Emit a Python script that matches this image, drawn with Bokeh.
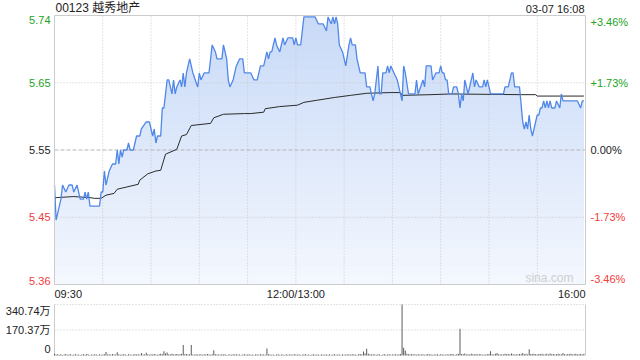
import numpy as np
from bokeh.plotting import figure
from bokeh.models import Range1d, Label
from bokeh.embed import file_html
from bokeh.resources import INLINE

# ---------------- data ----------------
title_text = "00123 越秀地产"
date_text = "03-07 16:08"
watermark = "sina.com"
prev_close = 5.55
pct_levels = [3.46, 1.73, 0.0, -1.73, -3.46]
price_labels = ["5.74", "5.65", "5.55", "5.45", "5.36"]
pct_labels = ["+3.46%", "+1.73%", "0.00%", "-1.73%", "-3.46%"]
session_minutes = 330
time_ticks = [0, 150, 330]
time_labels = ["09:30", "12:00/13:00", "16:00"]
grid_minutes = [30, 60, 90, 120, 150, 180, 210, 240, 270, 300]
vol_max = 340.74
vol_labels = ["340.74万", "170.37万", "0"]

price_min = [0, 1, 3, 4, 5, 7, 9, 11, 12, 14, 16, 18, 19, 20, 21, 22, 28, 29, 30, 31,
             32, 33, 34, 36, 38, 39, 40, 41, 42, 43, 45, 46, 47, 49, 51, 53, 54, 57, 59, 61,
             62, 63, 64, 66, 67, 68, 70, 71, 73, 74, 75, 76, 78, 79, 80, 81, 82, 84, 86, 89,
             90, 91, 93, 96, 98, 100, 101, 104, 105, 107, 108, 109, 111, 113, 115, 117, 118, 122, 124, 126,
             127, 128, 130, 131, 132, 133, 134, 135, 137, 138, 140, 142, 143, 145, 148, 149, 150, 151, 153, 155,
             162, 164, 167, 169, 170, 172, 173, 174, 175, 176, 177, 179, 181, 183, 184, 185, 187, 188, 190, 193,
             194, 196, 197, 198, 199, 201, 202, 203, 204, 206, 207, 208, 209, 211, 213, 214, 215, 216, 217, 218,
             220, 224, 225, 226, 229, 230, 231, 234, 235, 237, 239, 240, 241, 242, 243, 244, 245, 247, 248, 250,
             251, 252, 253, 254, 255, 257, 259, 260, 261, 262, 264, 266, 267, 268, 269, 271, 279, 280, 282, 284,
             285, 286, 289, 291, 292, 293, 294, 295, 296, 297, 300, 301, 302, 303, 304, 305, 306, 307, 308, 309,
             311, 312, 314, 315, 316, 325, 327, 328, 329]
price_val = [5.50, 5.45, 5.47, 5.48, 5.50, 5.49, 5.50, 5.50, 5.49, 5.50, 5.48, 5.48, 5.49, 5.48, 5.49, 5.47, 5.47, 5.49, 5.49, 5.52,
             5.50, 5.51, 5.52, 5.53, 5.53, 5.55, 5.53, 5.55, 5.54, 5.55, 5.55, 5.56, 5.55, 5.55, 5.57, 5.57, 5.58, 5.59, 5.59, 5.57,
             5.58, 5.56, 5.57, 5.57, 5.61, 5.61, 5.65, 5.65, 5.63, 5.65, 5.63, 5.64, 5.65, 5.64, 5.66, 5.64, 5.66, 5.68, 5.66, 5.64,
             5.66, 5.65, 5.66, 5.66, 5.70, 5.69, 5.68, 5.68, 5.70, 5.68, 5.65, 5.64, 5.65, 5.67, 5.68, 5.68, 5.66, 5.66, 5.65, 5.65,
             5.66, 5.67, 5.67, 5.68, 5.69, 5.68, 5.69, 5.69, 5.71, 5.70, 5.69, 5.71, 5.70, 5.71, 5.71, 5.70, 5.71, 5.70, 5.70, 5.74,
             5.74, 5.73, 5.73, 5.72, 5.74, 5.73, 5.74, 5.73, 5.74, 5.73, 5.70, 5.69, 5.67, 5.70, 5.71, 5.70, 5.70, 5.68, 5.66, 5.66,
             5.64, 5.64, 5.63, 5.62, 5.63, 5.67, 5.63, 5.63, 5.66, 5.66, 5.67, 5.66, 5.67, 5.66, 5.65, 5.64, 5.63, 5.62, 5.67, 5.66,
             5.63, 5.63, 5.65, 5.63, 5.65, 5.64, 5.67, 5.67, 5.65, 5.66, 5.66, 5.67, 5.66, 5.66, 5.65, 5.65, 5.63, 5.63, 5.64, 5.64,
             5.63, 5.61, 5.63, 5.62, 5.65, 5.63, 5.65, 5.66, 5.64, 5.65, 5.64, 5.64, 5.65, 5.64, 5.65, 5.63, 5.63, 5.64, 5.64, 5.66,
             5.66, 5.64, 5.64, 5.59, 5.58, 5.59, 5.58, 5.60, 5.58, 5.57, 5.60, 5.60, 5.61, 5.61, 5.62, 5.61, 5.62, 5.61, 5.62, 5.61,
             5.61, 5.62, 5.61, 5.63, 5.62, 5.62, 5.61, 5.62, 5.62]

avg_min = [0, 1, 12, 22, 25, 29, 32, 37, 39, 52, 53, 58, 63, 66, 69, 76, 79, 82, 85, 97,
           99, 105, 118, 122, 130, 131, 140, 151, 155, 163, 174, 184, 194, 209, 215, 216, 234, 246, 290, 299,
           300, 329]
avg_val = [5.482, 5.482, 5.4835, 5.482, 5.481, 5.481, 5.4855, 5.488, 5.494, 5.501, 5.507, 5.516, 5.520, 5.521, 5.544, 5.551, 5.570, 5.572, 5.585, 5.588,
           5.596, 5.601, 5.602, 5.602, 5.604, 5.609, 5.612, 5.614, 5.618, 5.621, 5.625, 5.628, 5.631, 5.632, 5.632, 5.628, 5.629, 5.630, 5.629, 5.629,
           5.627, 5.627]

volume = [12, 6, 8, 5, 9, 4, 7, 10, 5, 6, 8, 4, 6, 9, 5, 7, 4, 6, 8, 5, 10, 6, 4, 7, 5, 8, 6, 4, 9, 5,
          7, 9, 23, 6, 8, 5, 10, 7, 6, 21, 8, 5, 7, 9, 6, 4, 8, 6, 5, 7, 9, 6, 8, 5, 16, 7, 6, 18, 9, 5,
          8, 6, 10, 7, 5, 9, 12, 8, 28, 14, 20, 9, 7, 11, 6, 8, 10, 7, 9, 12, 70, 8, 10, 6, 9, 70, 7, 5, 8, 6,
          7, 9, 5, 8, 6, 10, 7, 5, 9, 35, 8, 6, 7, 5, 9, 6, 8, 4, 7, 6, 5, 8, 6, 9, 5, 7, 4, 6, 8, 5,
          6, 8, 5, 7, 4, 9, 6, 5, 8, 6, 7, 5, 46, 8, 6, 5, 7, 4, 6, 8, 5, 7, 6, 4, 8, 5, 6, 7, 5, 9,
          6, 5, 8, 4, 7, 6, 9, 5, 7, 4, 6, 8, 5, 7, 6, 4, 8, 5, 6, 7, 5, 9, 4, 6, 8, 5, 7, 6, 4, 8,
          5, 7, 6, 9, 5, 8, 6, 7, 4, 8, 10, 6, 27, 14, 45, 12, 8, 6, 9, 7, 5, 8, 6, 4, 7, 9, 5, 6, 8, 5,
          7, 6, 9, 5, 8, 10, 340.74, 52, 33, 12, 9, 7, 10, 6, 8, 5, 9, 7, 6, 8, 5, 7, 10, 6, 8, 5, 7, 6, 9, 5,
          8, 6, 7, 5, 9, 6, 8, 10, 7, 5, 9, 12, 178, 10, 8, 14, 7, 9, 6, 12, 8, 7, 10, 6, 8, 9, 5, 7, 6, 8,
          10, 28, 9, 7, 12, 16, 8, 6, 9, 7, 12, 8, 10, 6, 14, 9, 7, 8, 6, 10, 9, 16, 8, 12, 7, 42, 10, 8, 12, 9,
          7, 10, 8, 12, 6, 9, 11, 7, 14, 8, 10, 6, 9, 12, 8, 7, 16, 9, 6, 10, 8, 12, 7, 9, 11, 6, 8, 10, 7, 12]

assert len(price_min) == len(price_val)
assert len(avg_min) == len(avg_val)

# ---------------- layout geometry (pixels) ----------------
W, H = 640, 360
PX_L, PX_R = 54, 585          # plot panels, left/right edges
PR_T, PR_B = 15, 284          # price panel top/bottom
VO_T, VO_B = 304, 355         # volume panel top/bottom

FONT = "Liberation Sans, Arial, Noto Sans CJK SC"
GREEN = "#22a322"
RED = "#f03c3c"
TXT = "#222222"
GRID = "#c8c8c8"
BORDER = "#cccccc"
LINE_BLUE = "#5088e8"

level_prices = [prev_close * (1 + p / 100.0) for p in pct_levels]
y_hi, y_lo = level_prices[0], level_prices[-1]

# scales: the frame covers the whole canvas; ranges are extended so that
# each panel lands at its pixel box
ppx_x = session_minutes / (PX_R - PX_L)
x_start = 0 - PX_L * ppx_x
x_end = session_minutes + (W - PX_R) * ppx_x
ppx_y = (y_hi - y_lo) / (PR_B - PR_T)
y_top = y_hi + PR_T * ppx_y
y_bot = y_lo - (H - PR_B) * ppx_y
ppx_v = vol_max / (VO_B - VO_T)
v_top = vol_max + VO_T * ppx_v
v_bot = 0 - (H - VO_B) * ppx_v

p = figure(width=W, height=H, x_range=Range1d(x_start, x_end), y_range=Range1d(y_bot, y_top),
           x_axis_type=None, y_axis_type=None, toolbar_location=None, output_backend="svg",
           min_border=0, min_border_left=0, min_border_right=0, min_border_top=0, min_border_bottom=0)
p.extra_y_ranges = {"vol": Range1d(v_bot, v_top)}
p.outline_line_color = None
p.background_fill_color = "white"
p.border_fill_color = "white"
p.xgrid.visible = False
p.ygrid.visible = False

pm = np.array(price_min, dtype=float)
pv = np.array(price_val, dtype=float)

# vertical gradient fill, built as stacked bands (top band first)
top_rgb = np.array([200, 218, 247])
bot_rgb = np.array([244, 247, 254])
nb = 30
edges = np.linspace(y_lo, y_hi, nb + 1)
for k in range(nb - 1, -1, -1):
    t = (k + 0.5) / nb
    c = bot_rgb + (top_rgb - bot_rgb) * t
    col = "#%02x%02x%02x" % tuple(int(round(v)) for v in c)
    p.varea(x=pm, y1=np.full_like(pv, y_lo), y2=np.minimum(pv, edges[k + 1]),
            fill_color=col, fill_alpha=1.0)

# grid lines of price panel
p.segment(x0=grid_minutes, x1=grid_minutes, y0=[y_lo] * len(grid_minutes), y1=[y_hi] * len(grid_minutes),
          line_color=GRID, line_dash="1 2", line_width=1)
p.segment(x0=[0, 0], x1=[session_minutes] * 2, y0=[level_prices[1], level_prices[3]],
          y1=[level_prices[1], level_prices[3]], line_color=GRID, line_dash="1 2", line_width=1)
p.segment(x0=[0], x1=[session_minutes], y0=[level_prices[2]], y1=[level_prices[2]],
          line_color="#b4b4b4", line_dash="4 2", line_width=1)

p.line(avg_min, avg_val, line_color="#2a2a2a", line_width=1.0)
p.line(price_min, price_val, line_color=LINE_BLUE, line_width=1.3)

# price panel border
p.quad(left=[0], right=[session_minutes], bottom=[y_lo], top=[y_hi],
       fill_color=None, line_color=BORDER, line_width=1)

# ---------------- volume ----------------
vx = np.arange(len(volume))
p.segment(x0=[0, 0], x1=[session_minutes] * 2, y0=[vol_max, vol_max / 2], y1=[vol_max, vol_max / 2],
          line_color=GRID, line_dash="1 2", line_width=1, y_range_name="vol")
p.segment(x0=[0, session_minutes], x1=[0, session_minutes], y0=[0, 0], y1=[vol_max, vol_max],
          line_color=BORDER, line_width=1, y_range_name="vol")
p.vbar(x=vx, top=volume, width=0.6, bottom=0, fill_color="#555555", line_color=None,
       y_range_name="vol")

# ---------------- texts ----------------
def lab(x, y, text, color, align, baseline, size="11px", xo=0, yo=0, yr="default"):
    p.add_layout(Label(x=x, y=y, text=text, text_color=color, text_align=align,
                       text_baseline=baseline, text_font=FONT, text_font_size=size,
                       x_offset=xo, y_offset=yo, y_range_name=yr))

cols = [GREEN, GREEN, TXT, RED, RED]
bases = ["top", "middle", "middle", "middle", "bottom"]
for lp, pl, ql, c, b in zip(level_prices, price_labels, pct_labels, cols, bases):
    lab(0, lp, pl, c, "right", b, xo=-4)
    lab(session_minutes, lp, ql, c, "left", b, xo=5)

aligns = ["left", "center", "right"]
for tm, tl, al in zip(time_ticks, time_labels, aligns):
    lab(tm, y_lo, tl, TXT, al, "top", yo=-3)

lab(0, y_hi, title_text, TXT, "left", "bottom", size="12px", xo=1, yo=1)
lab(session_minutes, y_hi, date_text, TXT, "right", "bottom", size="11px", xo=-1, yo=1)
lab(322.5, y_lo, watermark, "#cfcfcf", "right", "bottom", size="12px")

lab(0, vol_max, vol_labels[0], TXT, "right", "top", xo=-4, yo=0, yr="vol")
lab(0, vol_max / 2, vol_labels[1], TXT, "right", "middle", xo=-4, yr="vol")
lab(0, 0, vol_labels[2], TXT, "right", "bottom", xo=-4, yo=3, yr="vol")

open("out.html", "w").write(file_html(p, INLINE))
